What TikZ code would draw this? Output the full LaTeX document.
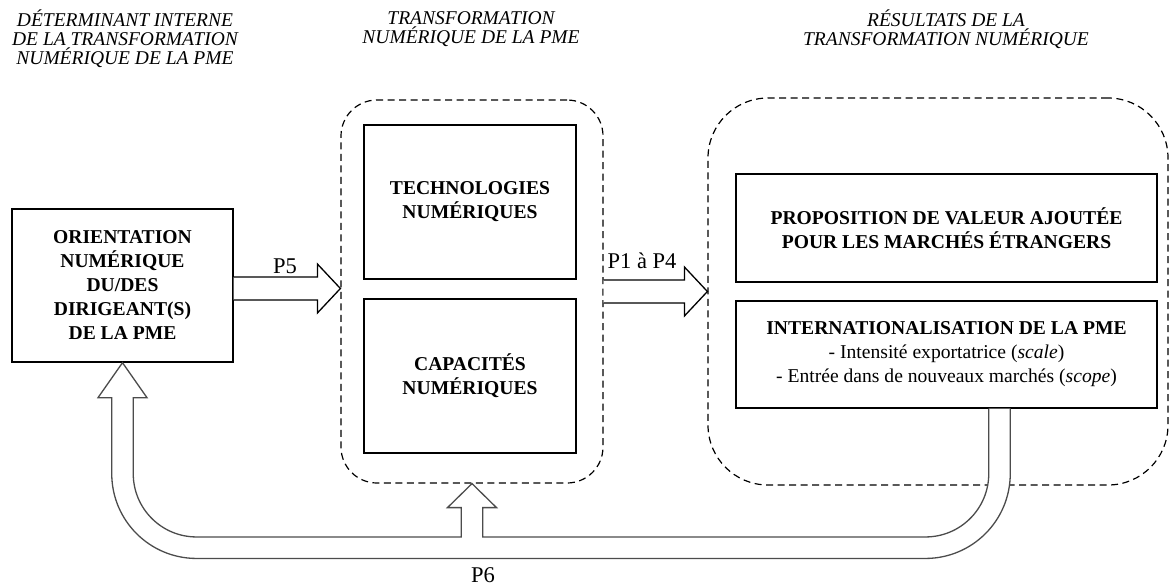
\documentclass[tikz,border=0pt]{standalone}
\usepackage{fontspec}
\setmainfont{Liberation Serif}
\usetikzlibrary{calc}
\newcommand{\titlefont}{\fontsize{19.5}{19}\selectfont\itshape}
\newcommand{\boxfont}{\fontsize{19.6}{24}\selectfont\bfseries}
\tikzset{
  title/.style={align=center, inner sep=0pt, font=\titlefont},
  box/.style={draw, line width=1.4pt, align=center, inner sep=0pt, font=\boxfont},
  dashbox/.style={draw, dash pattern=on 7pt off 4.5pt, line width=1.2pt, rounded corners=#1},
  fat/.style={line width=1.3pt, fill=white, line join=miter},
  loop/.style={line width=1.3pt, draw=black!70, fill=white},
  lbl/.style={inner sep=0pt, font=\fontsize{22.5}{24}\selectfont}
}
\begin{document}
\begin{tikzpicture}[x=1pt, y=-1pt]
    \useasboundingbox (0,0) rectangle (1173,586);
    \node[title] (t1) at (125,39) {DÉTERMINANT INTERNE\\DE LA TRANSFORMATION\\NUMÉRIQUE DE LA PME};
    \node[title] (t2) at (471,29) {TRANSFORMATION\\NUMÉRIQUE DE LA PME};
    \node[title] (t3) at (946,29) {RÉSULTATS DE LA\\TRANSFORMATION NUMÉRIQUE};

    \node[box, minimum width=221pt, minimum height=153pt] (orient) at (122.5,285.5) {ORIENTATION\\NUMÉRIQUE\\DU/DES\\DIRIGEANT(S)\\DE LA PME};
    \node[dashbox=36pt, minimum width=262pt, minimum height=383pt] (mid) at (472,291.5) {};
    \node[box, minimum width=212pt, minimum height=154pt] (tech) at (470,202) {TECHNOLOGIES\\NUMÉRIQUES};
    \node[box, minimum width=212pt, minimum height=154pt] (capa) at (470,376) {CAPACITÉS\\NUMÉRIQUES};
    \node[dashbox=60pt, minimum width=460pt, minimum height=387pt] (res) at (938,291.5) {};
    \node[box, minimum width=421pt, minimum height=108pt] (prop) at (946.5,228) {PROPOSITION DE VALEUR AJOUTÉE\\POUR LES MARCHÉS ÉTRANGERS};
    \node[box, minimum width=421pt, minimum height=107pt] (inter) at (946.5,354.5) {INTERNATIONALISATION DE LA PME\\\mdseries - Intensité exportatrice (\textit{scale})\\\mdseries - Entrée dans de nouveaux marchés (\textit{scope})};

    \draw[fat] let \p1=($(orient.east)+(0,3)$), \p2=(mid.west) in
        (\x1,\y1+11.5pt) -- (\x2-23pt,\y1+11.5pt) -- (\x2-23pt,\y1+24.5pt) -- (\x2,\y1)
        -- (\x2-23pt,\y1-24.5pt) -- (\x2-23pt,\y1-11.5pt) -- (\x1,\y1-11.5pt);
    \draw[fat] let \p1=(mid.east), \p2=(res.west) in
        (\x1,\y1+11.5pt) -- (\x2-23pt,\y1+11.5pt) -- (\x2-23pt,\y1+24.5pt) -- (\x2,\y1)
        -- (\x2-23pt,\y1-24.5pt) -- (\x2-23pt,\y1-11.5pt) -- (\x1,\y1-11.5pt);
    \node[lbl] (p5) at (285,266) {P5};
    \node[lbl] (p14) at (642,261) {P1 à P4};

    \draw[loop] let \p1=(inter.south), \p2=(orient.south), \p3=(mid.south) in
        (\x1+42.25pt,\y1) -- (\x1+42.25pt,\y1-65pt) arc[start angle=0, end angle=-90, radius=63.25pt]
        -- (\x3+10.75pt,\y1-128.25pt) -- (\x3+10.75pt,\y3-24pt) -- (\x3+24.5pt,\y3-24pt) -- (\x3,\y3)
        -- (\x3-24.5pt,\y3-24pt) -- (\x3-10.75pt,\y3-24pt) -- (\x3-10.75pt,\y1-128.25pt)
        -- (\x2+74pt,\y1-128.25pt) arc[start angle=-90, end angle=-180, radius=63.25pt]
        -- (\x2+10.75pt,\y2-35pt) -- (\x2+24.5pt,\y2-35pt) -- (\x2,\y2) -- (\x2-24.5pt,\y2-35pt)
        -- (\x2-10.75pt,\y2-35pt) -- (\x2-10.75pt,\y1-65pt) arc[start angle=180, end angle=270, radius=84.75pt]
        -- (\x1-21pt,\y1-149.75pt) arc[start angle=270, end angle=360, radius=84.75pt] -- (\x1+63.75pt,\y1);
    \node[lbl] (p6) at (483,575) {P6};
\end{tikzpicture}
\end{document}
